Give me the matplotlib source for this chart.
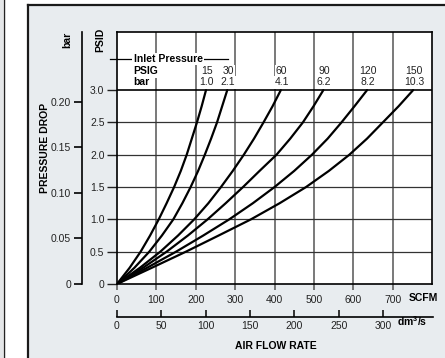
import matplotlib
matplotlib.use("Agg")
import matplotlib.pyplot as plt
from matplotlib.patches import Rectangle
from matplotlib.lines import Line2D

plt.rcParams['font.family'] = ['Liberation Sans', 'DejaVu Sans']
plt.rcParams['mathtext.fontset'] = 'custom'
plt.rcParams['mathtext.bf'] = 'Liberation Sans:bold'
plt.rcParams['mathtext.rm'] = 'Liberation Sans'

# pressure drop levels (PSID) and air flow (SCFM) read at each level
psid_levels = [0, 0.25, 0.5, 0.75, 1.0, 1.25, 1.5, 1.75, 2.0, 2.25, 2.5, 2.75, 3.0]
flow_15 = [0, 32, 60, 84, 106, 126, 145, 162, 177, 190, 203, 215, 226]
flow_30 = [0, 44, 82, 114, 143, 166, 187, 206, 223, 239, 254, 267, 280]
flow_60 = [0, 58, 110, 155, 196, 232, 264, 294, 322, 348, 372, 395, 416]
flow_90 = [0, 66, 126, 180, 230, 276, 320, 362, 405, 440, 472, 499, 524]
flow_120 = [0, 76, 150, 219, 285, 345, 400, 450, 495, 535, 570, 603, 635]
flow_150 = [0, 88, 175, 258, 340, 413, 480, 538, 590, 635, 675, 715, 752]
flows = [flow_15, flow_30, flow_60, flow_90, flow_120, flow_150]

inlet_psig = ['15', '30', '60', '90', '120', '150']
inlet_bar = ['1.0', '2.1', '4.1', '6.2', '8.2', '10.3']

psid_ticks = [0, 0.5, 1.0, 1.5, 2.0, 2.5, 3.0]
bar_ticks = [0, 0.05, 0.10, 0.15, 0.20]
bar_labels = ['0', '0.05', '0.10', '0.15', '0.20']
scfm_ticks = [0, 100, 200, 300, 400, 500, 600, 700]
dm3s_ticks = [0, 50, 100, 150, 200, 250, 300]

PSI_PER_BAR = 14.1     # scale used by the printed bar axis
SCFM_PER_DM3S = 2.25   # scale used by the printed dm3/s axis
FS = 7.5

fig = plt.figure(figsize=(4.45, 3.58), dpi=100)
W, H = 445.0, 358.0

# background panel and frame lines
fig.patches.append(Rectangle((29 / W, 0), 1, 353.5 / H, transform=fig.transFigure,
                             facecolor='#e8ecef', edgecolor='none', zorder=-10))
fig.patches.append(Rectangle((0, 0), 3 / W, 1, transform=fig.transFigure,
                             facecolor='#e4e6e8', edgecolor='none', zorder=-10))
fig.add_artist(Line2D([28.5 / W] * 2, [0, 353.5 / H], color='#1a1a1a', lw=1.6, zorder=-5))
fig.add_artist(Line2D([28.5 / W, 1], [353.5 / H] * 2, color='#1a1a1a', lw=1.6, zorder=-5))
fig.add_artist(Line2D([3.5 / W] * 2, [0, 1], color='#222222', lw=1.0, zorder=-5))

# main chart
ax = fig.add_axes([117 / W, 74 / H, 315 / W, 252 / H])
ax.set_facecolor('white')
ax.set_xlim(0, 800)
ax.set_ylim(0, 3.9)

for x in scfm_ticks[1:]:
    ax.axvline(x, color='#555555', lw=1.1, zorder=1)
for y in psid_ticks[1:-1]:
    ax.axhline(y, color='#333333', lw=0.9, zorder=1)
ax.axhline(psid_ticks[-1], color='black', lw=1.2, zorder=1)

for f in flows:
    ax.plot(f, psid_levels, color='black', lw=1.6, solid_joinstyle='round',
            solid_capstyle='round', zorder=3)

ax.set_xticks(scfm_ticks)
ax.set_xticklabels([str(v) for v in scfm_ticks])
ax.set_yticks(psid_ticks)
ax.set_yticklabels(['0' if v == 0 else f'{v:.1f}' for v in psid_ticks])
ax.tick_params(axis='x', direction='out', length=4, width=1.1, color='#555555',
               pad=4, labelsize=FS, labelcolor='#222222')
ax.tick_params(axis='y', direction='out', length=7, width=1.0, color='#222222',
               pad=2, labelsize=FS, labelcolor='#222222')
for s in ax.spines.values():
    s.set_color('black')
    s.set_linewidth(1.2)

# inlet pressure header
hdr_y = 3.48
ax.plot([-18, 36], [hdr_y, hdr_y], color='black', lw=0.9, clip_on=False, zorder=2)
ax.plot([220, 283], [hdr_y, hdr_y], color='black', lw=0.9, zorder=2)
box = dict(facecolor='white', edgecolor='none', pad=0.8)
ax.text(42, hdr_y, 'Inlet Pressure', fontsize=FS, fontweight='bold', ha='left',
        va='center', bbox=box, zorder=4)
ax.text(42, 3.29, 'PSIG', fontsize=FS, fontweight='bold', ha='left',
        va='center', bbox=box, zorder=4)
ax.text(42, 3.12, 'bar', fontsize=FS, fontweight='bold', ha='left',
        va='center', bbox=box, zorder=4)
for f, p, b in zip(flows, inlet_psig, inlet_bar):
    ax.text(f[-1] + 2, 3.29, p, fontsize=FS, ha='center', va='center',
            color='#222222', bbox=box, zorder=4)
    ax.text(f[-1] + 2, 3.12, b, fontsize=FS, ha='center', va='center',
            color='#222222', bbox=box, zorder=4)

# bar axis on the far left
axb = fig.add_axes([82 / W, 74 / H, 0.0001, 252 / H])
axb.set_facecolor('none')
axb.set_ylim(0, 3.9 / PSI_PER_BAR)
for k in ('right', 'top', 'bottom'):
    axb.spines[k].set_visible(False)
axb.spines['left'].set_linewidth(1.2)
axb.set_xticks([])
axb.set_yticks(bar_ticks)
axb.set_yticklabels(bar_labels)
axb.tick_params(axis='y', direction='out', length=6, width=1.2, pad=2,
                labelsize=FS, labelcolor='#222222')

# dm3/s axis below
axd = fig.add_axes([117 / W, 41 / H, 316 / W, 0.0001])
axd.set_facecolor('none')
axd.set_xlim(0, 802)
for k in ('left', 'right', 'top'):
    axd.spines[k].set_visible(False)
axd.spines['bottom'].set_linewidth(1.2)
axd.set_yticks([])
axd.set_xticks([v * SCFM_PER_DM3S for v in dm3s_ticks])
axd.set_xticklabels([str(v) for v in dm3s_ticks])
axd.tick_params(axis='x', direction='in', length=5, width=1.1, pad=3,
                labelsize=FS, labelcolor='#222222')

# axis titles
fig.text(45 / W, 1 - 148 / H, 'PRESSURE DROP', rotation=90, fontsize=FS,
         fontweight='bold', ha='center', va='center')
fig.text(100 / W, 1 - 40 / H, 'PSID', rotation=90, fontsize=FS,
         fontweight='bold', ha='center', va='center')
fig.text(67 / W, 1 - 40 / H, 'bar', rotation=90, fontsize=FS,
         fontweight='bold', ha='center', va='center')
fig.text(423 / W, 1 - 298 / H, 'SCFM', fontsize=FS, fontweight='bold',
         ha='center', va='center')
fig.text(412 / W, 1 - 321 / H, r'$\mathbf{dm^{3}/s}$', fontsize=FS,
         ha='center', va='center')
fig.text(276 / W, 1 - 346 / H, 'AIR FLOW RATE', fontsize=FS,
         fontweight='bold', ha='center', va='center')

fig.savefig('out.png', dpi=100)
